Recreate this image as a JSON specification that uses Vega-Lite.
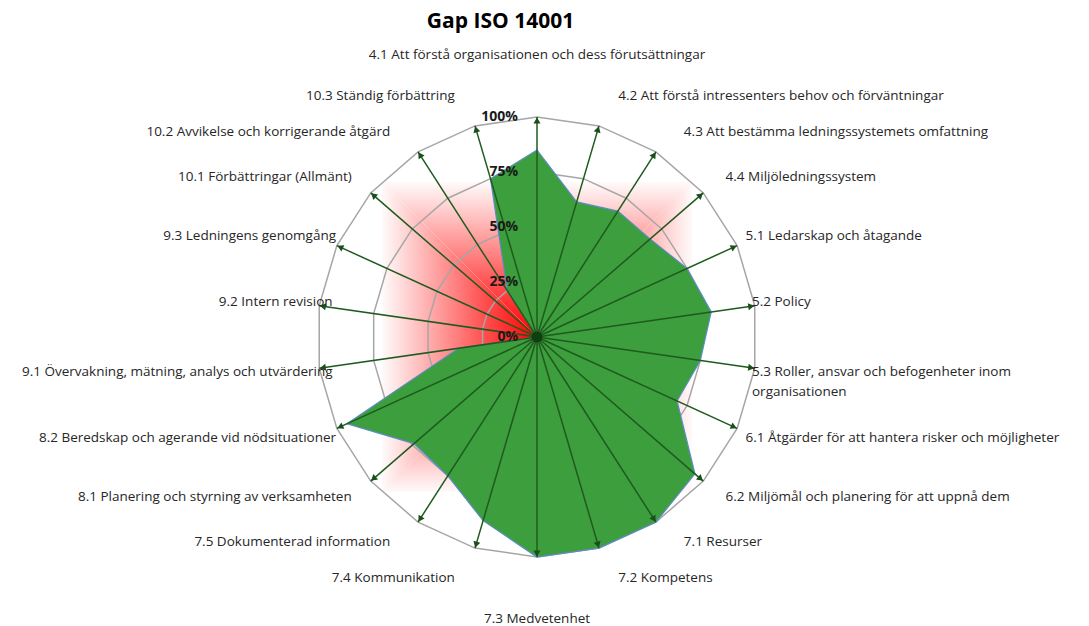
{
  "$schema": "https://vega.github.io/schema/vega-lite/v6.json",
  "width": 1089,
  "height": 586,
  "autosize": {"type": "none"},
  "padding": {"top": 40, "left": 0, "right": 0, "bottom": 0},
  "background": "white",
  "title": {"text": "Gap ISO 14001", "anchor": "middle", "dx": -44, "offset": 8, "fontSize": 21, "font": "Open Sans", "fontWeight": "bold", "color": "#000000"},
  "config": {"view": {"stroke": null}},
  "datasets": {
    "cats": [
      {"i": 0, "label": "4.1 Att förstå organisationen och dess förutsättningar", "v": 0.85},
      {"i": 1, "label": "4.2 Att förstå intressenters behov och förväntningar", "v": 0.64},
      {"i": 2, "label": "4.3 Att bestämma ledningssystemets omfattning", "v": 0.68},
      {"i": 3, "label": "4.4 Miljöledningssystem", "v": 0.68},
      {"i": 4, "label": "5.1 Ledarskap och åtagande", "v": 0.75},
      {"i": 5, "label": "5.2 Policy", "v": 0.80},
      {"i": 6, "label": "5.3 Roller, ansvar och befogenheter inom\norganisationen", "v": 0.75},
      {"i": 7, "label": "6.1 Åtgärder för att hantera risker och möjligheter", "v": 0.70},
      {"i": 8, "label": "6.2 Miljömål och planering för att uppnå dem", "v": 0.95},
      {"i": 9, "label": "7.1 Resurser", "v": 1.0},
      {"i": 10, "label": "7.2 Kompetens", "v": 1.0},
      {"i": 11, "label": "7.3 Medvetenhet", "v": 1.0},
      {"i": 12, "label": "7.4 Kommunikation", "v": 0.87},
      {"i": 13, "label": "7.5 Dokumenterad information", "v": 0.75},
      {"i": 14, "label": "8.1 Planering och styrning av verksamheten", "v": 0.74},
      {"i": 15, "label": "8.2 Beredskap och agerande vid nödsituationer", "v": 0.95},
      {"i": 16, "label": "9.1 Övervakning, mätning, analys och utvärdering", "v": 0.36},
      {"i": 17, "label": "9.2 Intern revision", "v": 0.0},
      {"i": 18, "label": "9.3 Ledningens genomgång", "v": 0.0},
      {"i": 19, "label": "10.1 Förbättringar (Allmänt)", "v": 0.0},
      {"i": 20, "label": "10.2 Avvikelse och korrigerande åtgärd", "v": 0.25},
      {"i": 21, "label": "10.3 Ständig förbättring", "v": 0.75}
    ],
    "ticks": [
      {"t": 0, "lab": "0%"},
      {"t": 0.25, "lab": "25%"},
      {"t": 0.5, "lab": "50%"},
      {"t": 0.75, "lab": "75%"},
      {"t": 1, "lab": "100%"}
    ]
  },
  "layer": [
    {
      "data": {"values": [{}]},
      "mark": {"type": "point", "shape": "M0,0L-1,-1L1,-1Z", "size": 96100, "filled": true, "opacity": 1, "strokeWidth": 0,
        "fill": {"gradient": "linear", "x1": 0, "y1": 1, "x2": 0, "y2": 0, "stops": [{"offset": 0, "color": "#ff0000"}, {"offset": 0.33, "color": "#ff4d4d"}, {"offset": 0.67, "color": "#ffa6a6"}, {"offset": 0.9, "color": "#ffe2e2"}, {"offset": 1, "color": "#fffafa"}]}},
      "encoding": {
        "x": {"datum": 0, "type": "quantitative", "scale": {"domain": [-2.44091, 2.50909], "nice": false, "zero": false}, "axis": null},
        "y": {"datum": 0, "type": "quantitative", "scale": {"domain": [-1.31364, 1.35], "nice": false, "zero": false}, "axis": null}
      }
    },
    {
      "data": {"values": [{}]},
      "mark": {"type": "point", "shape": "M0,0L1,-1L1,1Z", "size": 96100, "filled": true, "opacity": 1, "strokeWidth": 0,
        "fill": {"gradient": "linear", "x1": 0, "y1": 0, "x2": 1, "y2": 0, "stops": [{"offset": 0, "color": "#ff0000"}, {"offset": 0.33, "color": "#ff4d4d"}, {"offset": 0.67, "color": "#ffa6a6"}, {"offset": 0.9, "color": "#ffe2e2"}, {"offset": 1, "color": "#fffafa"}]}},
      "encoding": {
        "x": {"datum": 0, "type": "quantitative", "scale": {"domain": [-2.44091, 2.50909], "nice": false, "zero": false}, "axis": null},
        "y": {"datum": 0, "type": "quantitative", "scale": {"domain": [-1.31364, 1.35], "nice": false, "zero": false}, "axis": null}
      }
    },
    {
      "data": {"values": [{}]},
      "mark": {"type": "point", "shape": "M0,0L1,1L-1,1Z", "size": 96100, "filled": true, "opacity": 1, "strokeWidth": 0,
        "fill": {"gradient": "linear", "x1": 0, "y1": 0, "x2": 0, "y2": 1, "stops": [{"offset": 0, "color": "#ff0000"}, {"offset": 0.33, "color": "#ff4d4d"}, {"offset": 0.67, "color": "#ffa6a6"}, {"offset": 0.9, "color": "#ffe2e2"}, {"offset": 1, "color": "#fffafa"}]}},
      "encoding": {
        "x": {"datum": 0, "type": "quantitative", "scale": {"domain": [-2.44091, 2.50909], "nice": false, "zero": false}, "axis": null},
        "y": {"datum": 0, "type": "quantitative", "scale": {"domain": [-1.31364, 1.35], "nice": false, "zero": false}, "axis": null}
      }
    },
    {
      "data": {"values": [{}]},
      "mark": {"type": "point", "shape": "M0,0L-1,1L-1,-1Z", "size": 96100, "filled": true, "opacity": 1, "strokeWidth": 0,
        "fill": {"gradient": "linear", "x1": 1, "y1": 0, "x2": 0, "y2": 0, "stops": [{"offset": 0, "color": "#ff0000"}, {"offset": 0.33, "color": "#ff4d4d"}, {"offset": 0.67, "color": "#ffa6a6"}, {"offset": 0.9, "color": "#ffe2e2"}, {"offset": 1, "color": "#fffafa"}]}},
      "encoding": {
        "x": {"datum": 0, "type": "quantitative", "scale": {"domain": [-2.44091, 2.50909], "nice": false, "zero": false}, "axis": null},
        "y": {"datum": 0, "type": "quantitative", "scale": {"domain": [-1.31364, 1.35], "nice": false, "zero": false}, "axis": null}
      }
    },
    {
      "data": {"name": "cats"},
      "transform": [
        {"calculate": "datum.i*2*PI/22", "as": "a"},
        {"calculate": "0.25", "as": "g1"},
        {"calculate": "0.5", "as": "g2"},
        {"calculate": "0.75", "as": "g3"},
        {"calculate": "1", "as": "g4"},
        {"fold": ["g1", "g2", "g3", "g4"], "as": ["ring", "r"]},
        {"calculate": "datum.r*sin(datum.a)", "as": "rx"},
        {"calculate": "datum.r*cos(datum.a)", "as": "ry"}
      ],
      "mark": {"type": "line", "interpolate": "linear-closed", "stroke": "#a6a6a6", "strokeWidth": 1.5},
      "encoding": {
        "x": {"field": "rx", "type": "quantitative", "scale": {"domain": [-2.44091, 2.50909], "nice": false, "zero": false}, "axis": null},
        "y": {"field": "ry", "type": "quantitative", "scale": {"domain": [-1.31364, 1.35], "nice": false, "zero": false}, "axis": null},
        "detail": {"field": "ring", "type": "nominal"},
        "order": {"field": "i", "type": "quantitative"}
      }
    },
    {
      "data": {"name": "cats"},
      "transform": [
        {"calculate": "datum.i*2*PI/22", "as": "a"},
        {"calculate": "datum.v*sin(datum.a)", "as": "px"},
        {"calculate": "datum.v*cos(datum.a)", "as": "py"}
      ],
      "mark": {"type": "line", "interpolate": "linear-closed", "fill": "#3c9e3c", "stroke": "#5b8cc4", "strokeWidth": 1.2},
      "encoding": {
        "x": {"field": "px", "type": "quantitative", "scale": {"domain": [-2.44091, 2.50909], "nice": false, "zero": false}, "axis": null},
        "y": {"field": "py", "type": "quantitative", "scale": {"domain": [-1.31364, 1.35], "nice": false, "zero": false}, "axis": null},
        "order": {"field": "i", "type": "quantitative"}
      }
    },
    {
      "data": {"name": "cats"},
      "transform": [
        {"calculate": "datum.i*2*PI/22", "as": "a"},
        {"calculate": "sin(datum.a)", "as": "sx"},
        {"calculate": "cos(datum.a)", "as": "sy"}
      ],
      "mark": {"type": "rule", "stroke": "#1f5a1f", "strokeWidth": 1.5},
      "encoding": {
        "x": {"field": "sx", "type": "quantitative", "scale": {"domain": [-2.44091, 2.50909], "nice": false, "zero": false}, "axis": null},
        "y": {"field": "sy", "type": "quantitative", "scale": {"domain": [-1.31364, 1.35], "nice": false, "zero": false}, "axis": null},
        "x2": {"datum": 0},
        "y2": {"datum": 0}
      }
    },
    {
      "data": {"name": "cats"},
      "transform": [
        {"calculate": "datum.i*2*PI/22", "as": "a"},
        {"calculate": "datum.i*360/22", "as": "deg"},
        {"calculate": "0.984*sin(datum.a)", "as": "ax"},
        {"calculate": "0.984*cos(datum.a)", "as": "ay"}
      ],
      "mark": {"type": "point", "shape": "triangle-up", "size": 50, "filled": true, "opacity": 1, "color": "#1a4f1a", "strokeWidth": 0},
      "encoding": {
        "x": {"field": "ax", "type": "quantitative", "scale": {"domain": [-2.44091, 2.50909], "nice": false, "zero": false}, "axis": null},
        "y": {"field": "ay", "type": "quantitative", "scale": {"domain": [-1.31364, 1.35], "nice": false, "zero": false}, "axis": null},
        "angle": {"field": "deg", "type": "quantitative", "scale": null}
      }
    },
    {
      "data": {"values": [{}]},
      "mark": {"type": "point", "shape": "circle", "size": 120, "filled": true, "opacity": 1, "color": "#0f3f0f", "strokeWidth": 0},
      "encoding": {
        "x": {"datum": 0, "type": "quantitative", "scale": {"domain": [-2.44091, 2.50909], "nice": false, "zero": false}, "axis": null},
        "y": {"datum": 0, "type": "quantitative", "scale": {"domain": [-1.31364, 1.35], "nice": false, "zero": false}, "axis": null}
      }
    },
    {
      "data": {"name": "ticks"},
      "mark": {"type": "text", "align": "right", "baseline": "middle", "dx": -19, "font": "Open Sans", "fontSize": 14, "fontWeight": "bold", "color": "#1a1a1a"},
      "encoding": {
        "x": {"datum": 0, "type": "quantitative", "scale": {"domain": [-2.44091, 2.50909], "nice": false, "zero": false}, "axis": null},
        "y": {"field": "t", "type": "quantitative", "scale": {"domain": [-1.31364, 1.35], "nice": false, "zero": false}, "axis": null},
        "text": {"field": "lab"}
      }
    },
    {
      "data": {"name": "cats"},
      "transform": [
        {"calculate": "datum.i*2*PI/22", "as": "a"},
        {"calculate": "(0.98+0.36*pow(cos(datum.a),2))*sin(datum.a)", "as": "lx"},
        {"calculate": "(1.11+0.17*pow(cos(datum.a),40))*cos(datum.a)", "as": "ly"},
        {"filter": "sin(datum.a) > 0.01"}
      ],
      "mark": {"type": "text", "align": "left", "baseline": "middle", "font": "Open Sans", "fontSize": 13.5, "color": "#262626", "lineBreak": "\n", "lineHeight": 20},
      "encoding": {
        "x": {"field": "lx", "type": "quantitative", "scale": {"domain": [-2.44091, 2.50909], "nice": false, "zero": false}, "axis": null},
        "y": {"field": "ly", "type": "quantitative", "scale": {"domain": [-1.31364, 1.35], "nice": false, "zero": false}, "axis": null},
        "text": {"field": "label"}
      }
    },
    {
      "data": {"name": "cats"},
      "transform": [
        {"calculate": "datum.i*2*PI/22", "as": "a"},
        {"calculate": "(0.93+0.43*pow(cos(datum.a),2))*sin(datum.a)", "as": "lx"},
        {"calculate": "(1.11+0.17*pow(cos(datum.a),40))*cos(datum.a)", "as": "ly"},
        {"filter": "sin(datum.a) < -0.01"}
      ],
      "mark": {"type": "text", "align": "right", "baseline": "middle", "font": "Open Sans", "fontSize": 13.5, "color": "#262626"},
      "encoding": {
        "x": {"field": "lx", "type": "quantitative", "scale": {"domain": [-2.44091, 2.50909], "nice": false, "zero": false}, "axis": null},
        "y": {"field": "ly", "type": "quantitative", "scale": {"domain": [-1.31364, 1.35], "nice": false, "zero": false}, "axis": null},
        "text": {"field": "label"}
      }
    },
    {
      "data": {"name": "cats"},
      "transform": [
        {"calculate": "datum.i*2*PI/22", "as": "a"},
        {"calculate": "(0.98+0.36*pow(cos(datum.a),2))*sin(datum.a)", "as": "lx"},
        {"calculate": "(1.11+0.17*pow(cos(datum.a),40))*cos(datum.a)", "as": "ly"},
        {"filter": "abs(sin(datum.a)) <= 0.01"}
      ],
      "mark": {"type": "text", "align": "center", "baseline": "middle", "font": "Open Sans", "fontSize": 13.5, "color": "#262626"},
      "encoding": {
        "x": {"field": "lx", "type": "quantitative", "scale": {"domain": [-2.44091, 2.50909], "nice": false, "zero": false}, "axis": null},
        "y": {"field": "ly", "type": "quantitative", "scale": {"domain": [-1.31364, 1.35], "nice": false, "zero": false}, "axis": null},
        "text": {"field": "label"}
      }
    }
  ]
}
